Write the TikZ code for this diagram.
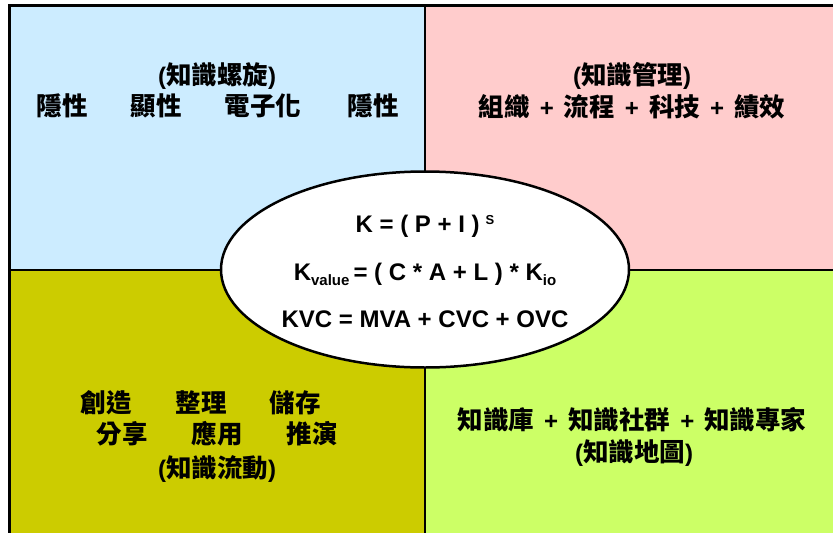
\documentclass[tikz,border=0pt]{standalone}
\usepackage{fontspec}
\setmainfont{Liberation Sans}
\newfontfamily\cjk{Noto Sans CJK TC}
\usetikzlibrary{shapes.geometric}
\newcommand{\zh}[1]{{\cjk\bfseries\fontsize{25.5}{30}\selectfont #1}}
\newcommand{\plusgap}{\hspace{10pt}+\hspace{10pt}}
\definecolor{qblue}{RGB}{204,236,255}
\definecolor{qpink}{RGB}{255,204,204}
\definecolor{qolive}{RGB}{204,204,0}
\definecolor{qgreen}{RGB}{204,255,102}
\begin{document}
\begin{tikzpicture}[x=1pt,y=-1pt,
  txt/.style={font=\bfseries\fontsize{24}{28}\selectfont, inner sep=0pt, anchor=base},
  frame/.style={line width=3pt},
  divider/.style={line width=2pt}]
\useasboundingbox (0,0) rectangle (833,533);
\begin{scope}
\clip (0,0) rectangle (833,533);
\fill[qblue]  (9.5,5.5) rectangle (425,270);
\fill[qpink]  (425,5.5) rectangle (845,270);
\fill[qolive] (9.5,270) rectangle (425,545);
\fill[qgreen] (425,270) rectangle (845,545);
\draw[frame] (9.5,545) -- (9.5,5.5) -- (845,5.5);
\draw[divider] (425,5.5) -- (425,545);
\draw[divider] (9.5,270) -- (845,270);
\end{scope}

% ellipse
\node[ellipse, draw, fill=white, line width=2.5pt, minimum width=408pt, minimum height=196pt, inner sep=0pt] (core) at (425,269.5) {};
\node[txt] (f1) at (425,232) {K = ( P + I )\hspace{6pt}\raisebox{8pt}{\fontsize{13}{13}\selectfont S}};
\node[txt] (f2) at (425,280) {K\raisebox{-5pt}{\fontsize{15}{15}\selectfont value}\,= ( C * A + L ) * K\raisebox{-5pt}{\fontsize{15}{15}\selectfont io}};
\node[txt] (f3) at (425,327) {KVC = MVA + CVC + OVC};

% top-left
\node[txt] (tlt) at (217,84) {(\zh{知識螺旋})};
\node[txt] (tl1) at (62,115) {\zh{隱性}};
\node[txt] (tl2) at (156,115) {\zh{顯性}};
\node[txt] (tl3) at (263,115) {\zh{電子化}};
\node[txt] (tl4) at (373,115) {\zh{隱性}};

% top-right
\node[txt] (trt) at (632,84) {(\zh{知識管理})};
\node[txt] (tr1) at (632,116) {\zh{組織}\plusgap\zh{流程}\plusgap\zh{科技}\plusgap\zh{績效}};

% bottom-left
\node[txt] (bl1) at (106,412) {\zh{創造}};
\node[txt] (bl2) at (201,412) {\zh{整理}};
\node[txt] (bl3) at (295,412) {\zh{儲存}};
\node[txt] (bl4) at (122,443) {\zh{分享}};
\node[txt] (bl5) at (217,443) {\zh{應用}};
\node[txt] (bl6) at (312,443) {\zh{推演}};
\node[txt] (blt) at (217,477) {(\zh{知識流動})};

% bottom-right
\node[txt] (br1) at (632,429) {\zh{知識庫}\plusgap\zh{知識社群}\plusgap\zh{知識專家}};
\node[txt] (brt) at (634,461) {(\zh{知識地圖})};
\end{tikzpicture}
\end{document}
